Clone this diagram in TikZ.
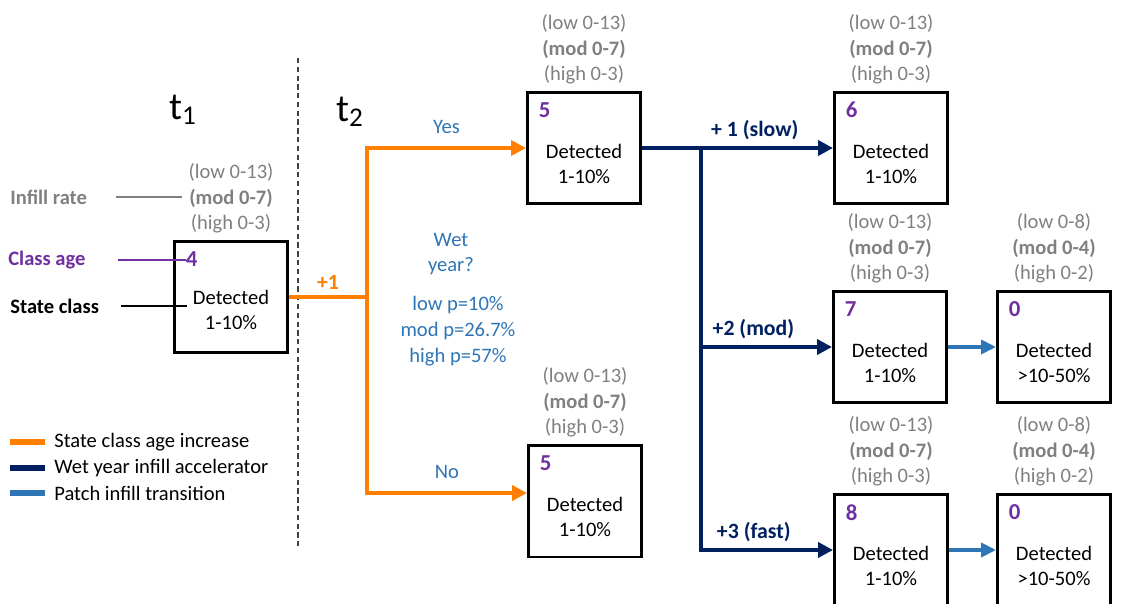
\documentclass[tikz,border=0pt]{standalone}
\usepackage{fontspec}
\setmainfont{Carlito}
\usepackage{xcolor}
\usepackage{tikz}
\usetikzlibrary{positioning,arrows.meta,calc}

\definecolor{ageorange}{RGB}{255,128,0}
\definecolor{wetnavy}{RGB}{0,32,96}
\definecolor{patchblue}{RGB}{46,117,182}
\definecolor{ageviolet}{RGB}{112,48,160}
\definecolor{rategray}{RGB}{128,128,128}
\newcommand{\figfont}{\fontsize{11.7}{14.6}\selectfont}

\begin{document}
\begin{tikzpicture}[
    x=0.02cm, y=-0.02cm,
    font=\figfont,
    box/.style={draw, line width=1.7pt, minimum width=2.26cm,
      minimum height=2.24cm},
    num/.style={anchor=north west, inner sep=0pt, xshift=0.25cm,
      yshift=-0.23cm, text=ageviolet,
      font=\fontsize{13}{15}\selectfont\bfseries},
    body/.style={align=center, yshift=-0.32cm},
    rate/.style={align=center, text=rategray},
    side/.style={anchor=west, inner sep=0pt, font=\figfont\bfseries},
    leg/.style={anchor=west, inner sep=0pt},
    tlab/.style={font=\fontsize{22}{26}\selectfont},
    ask/.style={align=center, text=patchblue},
    ageline/.style={line width=2.2pt, ageorange},
    agearr/.style={ageline, -{Triangle[length=0.3cm, width=0.3cm]}},
    wetarr/.style={line width=2.2pt, wetnavy,
      -{Triangle[length=0.3cm, width=0.3cm]}},
    patcharr/.style={line width=2.2pt, patchblue,
      -{Triangle[length=0.3cm, width=0.28cm]}},
    swatch/.style={line width=3.4pt},
    tag/.style={font=\fontsize{12.4}{15}\selectfont\bfseries}
]
\useasboundingbox (0,0) rectangle (1121,604);

% time steps
\node[tlab] (t1) at (183,110) {t\textsubscript{1}};
\node[tlab] (t2) at (350,112) {t\textsubscript{2}};
\draw[black!75, line width=0.8pt, dash pattern=on 3pt off 2pt] (298,58) -- (298,548);

% t1 state
\node[box]  (a)   at (231,297) {};
\node[num]  (a-n) at (a.north west) {4};
\node[body] (a-t) at ([yshift=0.06cm]a.center) {Detected\\1-10\%};
\node[rate, above=0pt of a] (a-r) {(low 0-13)\\\textbf{(mod 0-7)}\\(high 0-3)};

\node[side, text=rategray]  (inf) at (10,197) {Infill rate};
\node[side, text=ageviolet] (age) at (8,260)  {Class age};
\node[side]                 (cls) at (10,306) {State class};
\draw[rategray, line width=0.6pt] ([xshift=0.58cm]inf.east) -- (inf.east -| a-r.west);
\draw[ageviolet, line width=0.6pt] ([xshift=0.64cm]age.east) -- (age.east -| a-n.west);
\draw[line width=0.6pt] ([xshift=0.44cm]cls.east) -- (cls.east -| a-t.west);

% t2 states
\node[box]  (b1)   at (584,148) {};
\node[num]  (b1-n) at (b1.north west) {5};
\node[body] (b1-t) at (b1.center) {Detected\\1-10\%};
\node[rate, above=0pt of b1] (b1-r) {(low 0-13)\\\textbf{(mod 0-7)}\\(high 0-3)};

\node[box]  (b2)   at (585,501) {};
\node[num]  (b2-n) at (b2.north west) {5};
\node[body] (b2-t) at (b2.center) {Detected\\1-10\%};
\node[rate, above=0pt of b2] (b2-r) {(low 0-13)\\\textbf{(mod 0-7)}\\(high 0-3)};

\node[box]  (c1)   at (891,148) {};
\node[num]  (c1-n) at (c1.north west) {6};
\node[body] (c1-t) at (c1.center) {Detected\\1-10\%};
\node[rate, above=0pt of c1] (c1-r) {(low 0-13)\\\textbf{(mod 0-7)}\\(high 0-3)};

\node[box]  (c2)   at (890,347) {};
\node[num]  (c2-n) at (c2.north west) {7};
\node[body] (c2-t) at (c2.center) {Detected\\1-10\%};
\node[rate, above=0pt of c2] (c2-r) {(low 0-13)\\\textbf{(mod 0-7)}\\(high 0-3)};

\node[box]  (c3)   at (891,550) {};
\node[num]  (c3-n) at (c3.north west) {8};
\node[body] (c3-t) at (c3.center) {Detected\\1-10\%};
\node[rate, above=0pt of c3] (c3-r) {(low 0-13)\\\textbf{(mod 0-7)}\\(high 0-3)};

\node[box]  (d1)   at (1054,347) {};
\node[num]  (d1-n) at (d1.north west) {0};
\node[body] (d1-t) at (d1.center) {Detected\\>10-50\%};
\node[rate, above=0pt of d1] (d1-r) {(low 0-8)\\\textbf{(mod 0-4)}\\(high 0-2)};

\node[box]  (d2)   at (1054,550) {};
\node[num]  (d2-n) at (d2.north west) {0};
\node[body] (d2-t) at (d2.center) {Detected\\>10-50\%};
\node[rate, above=0pt of d2] (d2-r) {(low 0-8)\\\textbf{(mod 0-4)}\\(high 0-2)};

% wet year question
\node[ask] (wet)  at (451,254) {Wet\\year?};
\node[ask] (prob) at (458,331) {low p=10\%\\mod p=26.7\%\\high p=57\%};

% age increase
\coordinate (split) at (367,297);
\draw[ageline] (a.east) -- node[above, tag, text=ageorange] (inc) {+1} (split);
\draw[agearr] (split) |- node[pos=0.75, above=0.14cm, text=patchblue] (yes) {Yes} (b1.west);
\draw[agearr] (split) |- node[pos=0.75, above=0.14cm, text=patchblue] (no) {No} ([yshift=0.16cm]b2.west);

% wet year accelerator
\coordinate (jn) at (701,148);
\draw[wetarr] (b1.east) -- node[pos=0.59, above, tag, text=wetnavy] (slow) {+ 1 (slow)} (c1.west);
\draw[wetarr] (jn) |- node[pos=0.7, above, tag, text=wetnavy] (mod) {+2 (mod)} (c2.west);
\draw[wetarr] (jn) |- node[pos=0.7, above, tag, text=wetnavy] (fast) {+3 (fast)} (c3.west);

% patch infill
\draw[patcharr] (c2.east) -- (d1.west);
\draw[patcharr] (c3.east) -- (d2.west);

% legend
\node[leg] (lg1) at (54,442) {State class age increase};
\node[leg] (lg2) at (54,468) {Wet year infill accelerator};
\node[leg] (lg3) at (54,493) {Patch infill transition};
\draw[swatch, ageorange] ([xshift=-0.18cm]lg1.west) -- ++(-0.7cm,0);
\draw[swatch, wetnavy]   ([xshift=-0.18cm]lg2.west) -- ++(-0.7cm,0);
\draw[swatch, patchblue] ([xshift=-0.18cm]lg3.west) -- ++(-0.7cm,0);
\end{tikzpicture}
\end{document}
